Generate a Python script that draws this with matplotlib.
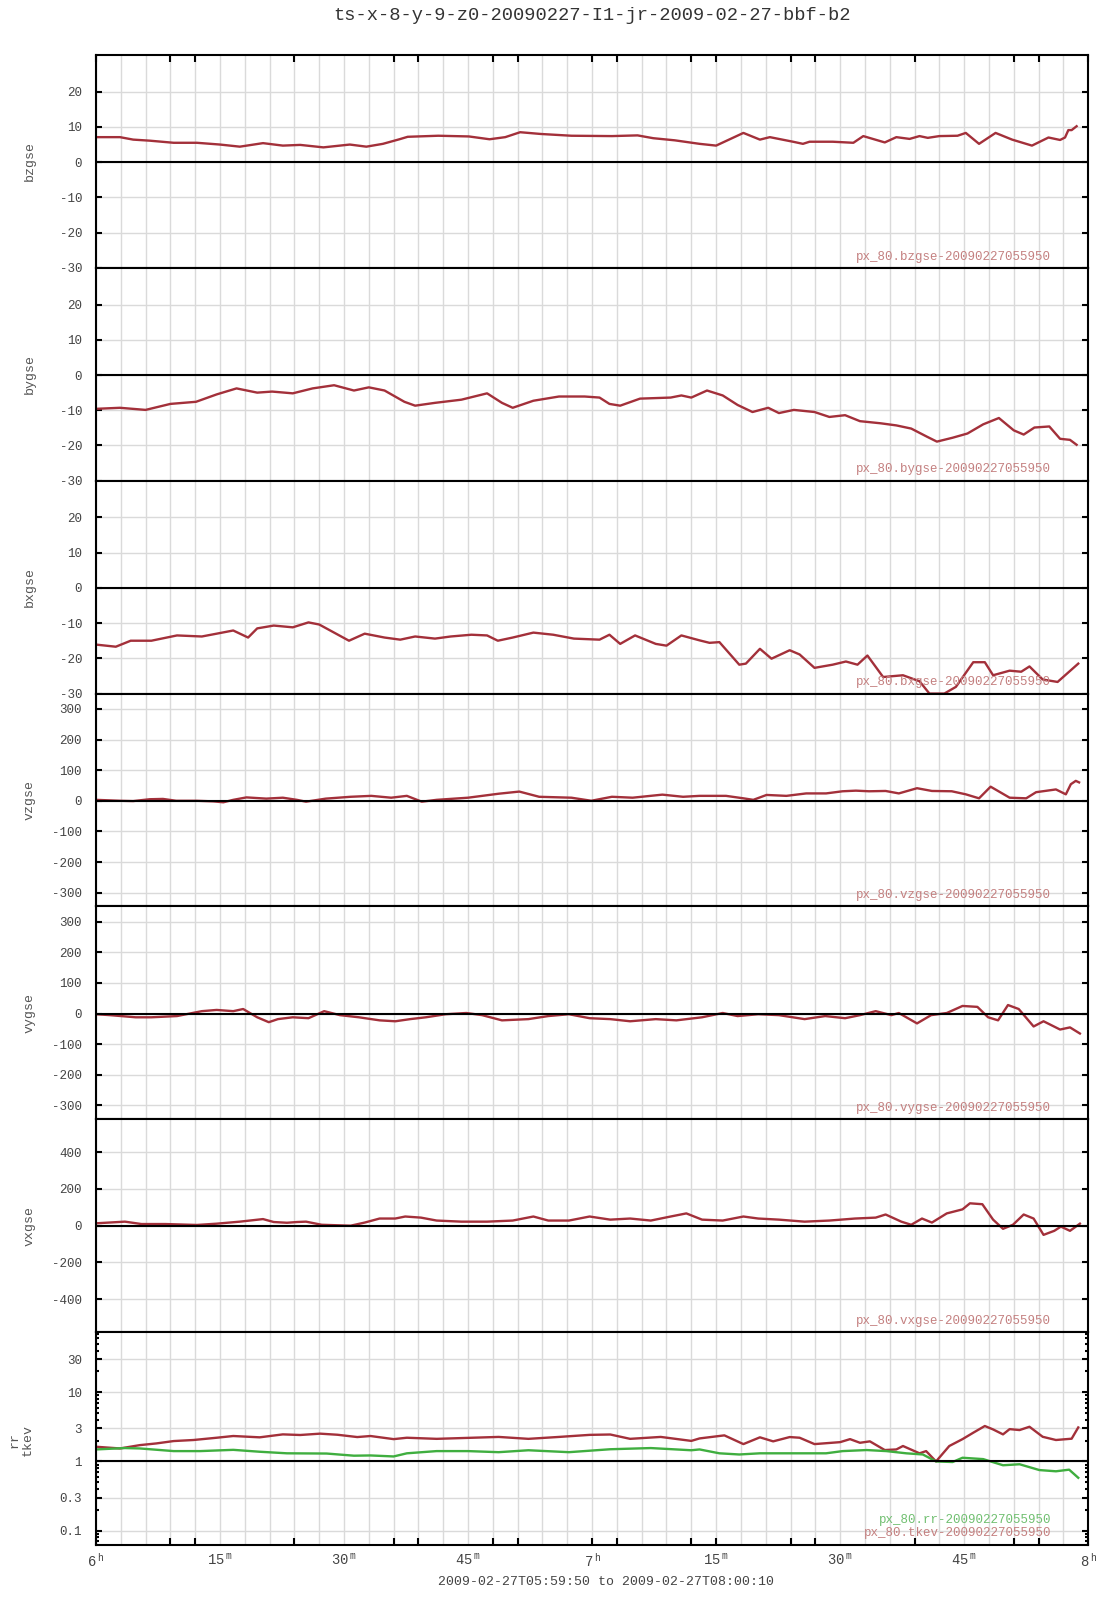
import matplotlib
matplotlib.use('Agg')
import matplotlib.pyplot as plt
from matplotlib.ticker import FixedLocator, FixedFormatter, MultipleLocator, LogLocator, NullFormatter

plt.rcParams['font.family'] = ['Liberation Mono', 'DejaVu Sans Mono']
plt.rcParams['axes.unicode_minus'] = False
plt.rcParams['mathtext.fontset'] = 'custom'
plt.rcParams['mathtext.rm'] = 'Liberation Mono'

title = "ts-x-8-y-9-z0-20090227-I1-jr-2009-02-27-bbf-b2"
time_range = "2009-02-27T05:59:50 to 2009-02-27T08:00:10"

# (minutes after 06:00, value)
bzgse = [(0, 7.1), (2.9, 7.1), (4.5, 6.4), (6.5, 6.1), (9.4, 5.5), (12.2, 5.5), (15.0, 5.0),
         (17.4, 4.4), (20.2, 5.4), (22.6, 4.7), (24.7, 4.9), (27.5, 4.2), (30.7, 5.0), (32.7, 4.4),
         (34.7, 5.2), (36.7, 6.5), (37.7, 7.2), (41.4, 7.5), (45.1, 7.3), (47.6, 6.5), (49.5, 7.1),
         (51.3, 8.5), (53.8, 8.0), (57.5, 7.5), (62.4, 7.4), (65.5, 7.6), (67.4, 6.8), (70.0, 6.2),
         (73.0, 5.2), (75.0, 4.7), (78.3, 8.3), (80.3, 6.4), (81.5, 7.1), (84.3, 5.8), (85.5, 5.2),
         (86.3, 5.8), (89.1, 5.8), (91.6, 5.5), (92.8, 7.4), (95.4, 5.6), (96.8, 7.1), (98.4, 6.6),
         (99.6, 7.4), (100.6, 6.9), (102.0, 7.4), (104.2, 7.5), (105.2, 8.3), (106.8, 5.2),
         (108.8, 8.3), (110.8, 6.4), (113.2, 4.7), (115.2, 7.0), (116.6, 6.3), (117.2, 7.0),
         (117.6, 9.1), (118.0, 9.1), (118.6, 10.2)]

bygse = [(0, -9.6), (2.9, -9.3), (6.0, -9.9), (9.0, -8.2), (12.1, -7.6), (14.6, -5.5), (17.0, -3.8),
         (19.5, -5.0), (21.3, -4.7), (23.8, -5.2), (26.2, -3.8), (28.8, -2.9), (31.2, -4.4),
         (33.0, -3.5), (34.9, -4.4), (37.3, -7.6), (38.6, -8.7), (41.0, -7.9), (44.2, -7.0),
         (47.3, -5.2), (49.1, -7.9), (50.4, -9.3), (52.9, -7.3), (56.0, -6.1), (59.1, -6.1),
         (60.9, -6.4), (62.1, -8.2), (63.4, -8.7), (65.8, -6.7), (69.5, -6.4), (70.8, -5.8),
         (72.0, -6.4), (73.9, -4.4), (75.8, -5.8), (77.6, -8.5), (79.4, -10.5), (81.3, -9.3),
         (82.6, -10.8), (84.4, -9.9), (86.9, -10.5), (88.7, -11.9), (90.6, -11.4), (92.4, -13.1),
         (94.9, -13.7), (96.8, -14.3), (98.6, -15.2), (100.5, -17.5), (101.7, -18.9),
         (103.6, -17.8), (105.4, -16.6), (107.3, -14.0), (109.2, -12.2), (111.0, -15.7),
         (112.2, -16.9), (113.5, -14.9), (115.3, -14.6), (116.6, -18.1), (117.8, -18.4),
         (118.6, -19.8)]

bxgse = [(0, -16.1), (2.4, -16.7), (4.2, -15.0), (6.7, -15.0), (9.8, -13.5), (12.8, -13.8),
         (14.6, -13.0), (16.6, -12.1), (18.4, -14.1), (19.5, -11.5), (21.5, -10.7), (23.8, -11.2),
         (25.7, -9.8), (27.0, -10.4), (28.8, -12.7), (30.6, -15.0), (32.5, -13.0), (34.9, -14.1),
         (36.8, -14.7), (38.6, -13.8), (41.0, -14.4), (42.9, -13.8), (45.4, -13.3), (47.3, -13.5),
         (48.6, -15.0), (50.4, -14.1), (52.9, -12.7), (55.3, -13.3), (57.8, -14.4), (60.9, -14.7),
         (62.1, -13.3), (63.4, -15.9), (65.2, -13.5), (67.7, -15.9), (69.0, -16.4), (70.8, -13.5),
         (73.0, -14.9), (74.2, -15.6), (75.4, -15.4), (77.8, -21.8), (78.6, -21.5), (80.3, -17.3),
         (81.7, -20.1), (83.9, -17.7), (85.1, -18.9), (86.9, -22.7), (89.1, -21.8), (90.7, -20.9),
         (92.1, -21.8), (93.3, -19.2), (95.2, -25.3), (97.6, -24.8), (99.6, -26.5), (100.8, -30.0),
         (102.6, -30.0), (104.0, -28.1), (106.1, -21.1), (107.5, -21.1), (108.5, -24.8),
         (110.5, -23.5), (111.9, -23.8), (112.9, -22.3), (114.5, -26.0), (116.3, -26.7),
         (118.8, -21.5)]

vzgse = [(0, 3), (2.9, 0), (4.5, -1), (6.5, 5), (8.1, 6), (9.7, 0), (12.2, 0), (14.2, -2),
         (15.4, -5), (16.6, 3), (18.2, 11), (20.6, 7), (22.6, 10), (24.3, 3), (25.4, -3),
         (27.8, 7), (30.8, 13), (33.3, 16), (35.7, 10), (37.6, 16), (39.4, -3), (41.2, 3),
         (45.0, 10), (48.7, 23), (51.2, 30), (53.6, 13), (57.5, 10), (59.9, 0), (62.4, 13),
         (64.9, 10), (68.5, 20), (71.0, 13), (73.0, 16), (76.2, 16), (78.3, 8), (79.5, 3),
         (81.1, 19), (83.5, 16), (85.9, 24), (88.3, 24), (90.3, 31), (91.9, 33), (93.5, 31),
         (95.5, 32), (97.1, 24), (99.3, 41), (101.1, 32), (103.5, 31), (105.2, 21), (106.8, 8),
         (108.2, 46), (110.5, 10), (112.5, 8), (113.7, 28), (116.1, 37), (117.3, 21),
         (117.9, 54), (118.5, 65), (118.9, 60)]

vygse = [(0, -2), (1.7, -5), (4.8, -12), (6.7, -12), (9.8, -8), (12.8, 8), (14.6, 12), (16.6, 8),
         (17.8, 15), (19.5, -12), (20.9, -28), (22.0, -18), (23.8, -12), (25.7, -15), (27.6, 8),
         (29.5, -5), (31.8, -12), (34.3, -22), (36.2, -25), (38.0, -18), (39.9, -12), (42.3, -2),
         (44.8, 2), (46.7, -5), (49.1, -22), (52.3, -18), (54.7, -8), (57.2, -2), (59.7, -15),
         (62.2, -18), (64.6, -25), (67.7, -18), (70.2, -22), (73.3, -12), (75.8, 2), (77.6, -8),
         (80.1, -2), (82.6, -5), (85.7, -18), (88.2, -8), (90.6, -15), (92.4, -5), (94.3, 8),
         (96.2, -5), (97.1, 2), (99.3, -32), (101.0, -5), (102.9, 2), (104.8, 25), (106.6, 22),
         (107.9, -12), (109.1, -22), (110.3, 28), (111.6, 15), (113.4, -42), (114.6, -25),
         (116.6, -52), (117.8, -45), (119.0, -65)]

vxgse = [(0, 13), (3.5, 22), (5.5, 9), (8.4, 9), (12.2, 4), (14.6, 11), (17.4, 22), (20.2, 36),
         (21.5, 20), (23.1, 16), (24.3, 20), (25.4, 22), (27.3, 5), (30.8, 0), (32.5, 17),
         (34.3, 39), (36.2, 39), (37.4, 50), (39.3, 44), (41.2, 28), (44.2, 22), (47.3, 22),
         (50.4, 28), (52.9, 50), (54.7, 28), (57.2, 28), (59.7, 50), (62.2, 33), (64.6, 39),
         (67.1, 28), (69.5, 50), (71.4, 67), (73.3, 33), (75.8, 28), (78.3, 50), (80.1, 39),
         (82.6, 33), (85.7, 22), (88.7, 28), (91.8, 39), (94.3, 44), (95.5, 61), (97.4, 22),
         (98.6, 5), (99.9, 39), (101.1, 17), (102.9, 67), (104.8, 89), (105.7, 122), (107.2, 117),
         (108.5, 33), (109.7, -17), (110.9, 5), (112.2, 61), (113.4, 39), (114.6, -50),
         (115.9, -28), (116.7, -5), (117.8, -28), (119.0, 11)]

tkev = [(0, 1.63), (2.9, 1.54), (5.3, 1.72), (7.3, 1.82), (9.4, 1.97), (11.8, 2.04), (14.6, 2.20),
        (16.6, 2.33), (19.8, 2.23), (22.6, 2.46), (24.7, 2.41), (27.1, 2.52), (29.2, 2.43),
        (31.6, 2.25), (33.2, 2.33), (36.0, 2.10), (37.6, 2.2), (41.2, 2.12), (45.0, 2.19),
        (48.7, 2.26), (52.3, 2.12), (56.0, 2.26), (59.7, 2.42), (62.2, 2.45), (64.6, 2.12),
        (68.3, 2.26), (72.0, 1.98), (73.0, 2.15), (74.6, 2.27), (76.0, 2.38), (78.3, 1.78),
        (80.3, 2.23), (81.9, 1.95), (83.9, 2.25), (85.1, 2.20), (86.9, 1.78), (90.0, 1.90),
        (91.2, 2.10), (92.4, 1.86), (93.6, 1.95), (95.4, 1.46), (96.8, 1.49), (97.6, 1.67),
        (99.6, 1.31), (100.4, 1.41), (101.6, 1.0), (103.2, 1.67), (104.8, 2.10), (106.1, 2.60),
        (107.5, 3.25), (108.5, 2.90), (109.7, 2.46), (110.5, 2.93), (111.7, 2.84), (112.9, 3.17),
        (114.5, 2.27), (116.1, 2.04), (118.0, 2.13), (118.8, 3.10)]

rr = [(0, 1.49), (3.5, 1.56), (5.3, 1.54), (9.4, 1.41), (12.6, 1.41), (16.6, 1.47), (19.8, 1.38),
      (23.1, 1.31), (27.9, 1.30), (31.2, 1.21), (33.2, 1.22), (36.0, 1.18), (37.6, 1.31),
      (41.2, 1.41), (45.0, 1.41), (48.7, 1.36), (52.3, 1.45), (57.2, 1.36), (62.2, 1.50),
      (67.1, 1.56), (72.0, 1.45), (73.0, 1.49), (75.4, 1.31), (77.8, 1.26), (80.3, 1.31),
      (84.3, 1.31), (88.3, 1.31), (90.3, 1.41), (93.2, 1.46), (95.6, 1.41), (98.0, 1.31),
      (100.0, 1.26), (101.6, 1.0), (103.6, 0.98), (104.8, 1.13), (107.3, 1.08), (109.7, 0.88),
      (111.7, 0.91), (114.1, 0.75), (116.1, 0.72), (117.7, 0.76), (118.8, 0.58)]

x_major = [0, 9, 12, 24, 36, 39, 48, 51, 60, 63, 72, 75, 84, 87, 99, 111, 114, 120]
x_labels = [(0, '6', 'h'), (15, '15', 'm'), (30, '30', 'm'), (45, '45', 'm'), (60, '7', 'h'),
            (75, '15', 'm'), (90, '30', 'm'), (105, '45', 'm'), (120, '8', 'h')]

panels = [
    ('bzgse', [bzgse], [-30, -20, -10, 0, 10, 20], (-30, 30.4)),
    ('bygse', [bygse], [-30, -20, -10, 0, 10, 20], (-30, 30.4)),
    ('bxgse', [bxgse], [-30, -20, -10, 0, 10, 20], (-30, 30.4)),
    ('vzgse', [vzgse], [-300, -200, -100, 0, 100, 200, 300], (-345, 350)),
    ('vygse', [vygse], [-300, -200, -100, 0, 100, 200, 300], (-345, 350)),
    ('vxgse', [vxgse], [-400, -200, 0, 200, 400], (-580, 580)),
]

red = '#a3303a'
green = '#3fae3f'
grid_c = '#dadada'
txt_c = '#444444'

fig, axes = plt.subplots(7, 1, figsize=(11.07, 16), dpi=100, sharex=True)
fig.subplots_adjust(left=0.0867, right=0.983, top=0.9656, bottom=0.0344, hspace=0)


def style(ax, i):
	ax.set_xlim(0, 120)
	ax.xaxis.set_major_locator(FixedLocator(x_major))
	ax.xaxis.set_minor_locator(MultipleLocator(3))
	ax.tick_params(axis='x', which='major', direction='in', length=5, width=1.5,
		top=(i == 0), bottom=(i == 6), labelbottom=False)
	ax.tick_params(axis='x', which='minor', length=0, top=False, bottom=False)
	ax.grid(axis='x', which='both', color=grid_c, lw=1)
	ax.tick_params(axis='y', which='major', direction='in', length=4, width=1.5,
		left=True, right=True, labelsize=9, labelcolor=txt_c, pad=10)
	ax.grid(axis='y', which='major', color=grid_c, lw=1)
	ax.set_axisbelow(True)
	for s in ax.spines.values():
		s.set_linewidth(1.5)


for i, (name, series, ticks, lim) in enumerate(panels):
	ax = axes[i]
	style(ax, i)
	for pts in series:
		t = [p[0] for p in pts]
		v = [p[1] for p in pts]
		ax.plot(t, v, color=red, lw=1.7, solid_joinstyle='round')
	ax.axhline(0, color='k', lw=1.5)
	ax.set_yticks(ticks)
	ax.set_yticklabels([str(k) for k in ticks])
	ax.set_ylim(lim)
	ax.text(0.9627, 0.053, 'px_80.' + name + '-20090227055950', transform=ax.transAxes,
		ha='right', va='center', fontsize=9, color='#c48080')
	pos = ax.get_position()
	fig.text(30 / 1107, (pos.y0 + pos.y1) / 2, name, rotation=90, ha='center', va='center',
		fontsize=9.5, color='#555555')

# last panel, log scale
ax = axes[6]
style(ax, 6)
ax.set_yscale('log')
ax.plot([p[0] for p in tkev], [p[1] for p in tkev], color=red, lw=1.7, solid_joinstyle='round')
ax.plot([p[0] for p in rr], [p[1] for p in rr], color=green, lw=1.7, solid_joinstyle='round')
ax.axhline(1, color='k', lw=1.5)
log_ticks = [0.1, 0.3, 1, 3, 10, 30]
ax.yaxis.set_major_locator(FixedLocator(log_ticks))
ax.yaxis.set_major_formatter(FixedFormatter(['0.1', '0.3', '1', '3', '10', '30']))
ax.yaxis.set_minor_locator(LogLocator(base=10, subs=[2, 3, 4, 5, 6, 7, 8, 9]))
ax.yaxis.set_minor_formatter(NullFormatter())
ax.tick_params(axis='y', which='minor', direction='in', length=2, width=1.5, left=True, right=True)
ax.set_ylim(0.062, 74)
ax.text(0.9627, 0.117, 'px_80.rr-20090227055950', transform=ax.transAxes,
	ha='right', va='center', fontsize=9, color='#70bf70')
ax.text(0.9627, 0.058, 'px_80.tkev-20090227055950', transform=ax.transAxes,
	ha='right', va='center', fontsize=9, color='#c48080')
fig.text(21 / 1107, 1 - 1440 / 1600, 'rr\ntkev', rotation=90, ha='center', va='center',
	fontsize=9.5, color='#555555', multialignment='center')

for xm, num, sup in x_labels:
	ax.text(xm, -0.03, r'$\mathrm{' + num + r'}^{\,\mathrm{' + sup + r'}}$',
		transform=ax.get_xaxis_transform(), ha='center', va='top', fontsize=10, color=txt_c)

fig.text(592 / 1107, 1 - 15 / 1600, title, ha='center', va='center', fontsize=13.5, color='#333333')
fig.text(606 / 1107, 1 - 1582 / 1600, time_range, ha='center', va='center', fontsize=9.5, color=txt_c)

fig.savefig('out.png', dpi=100)
